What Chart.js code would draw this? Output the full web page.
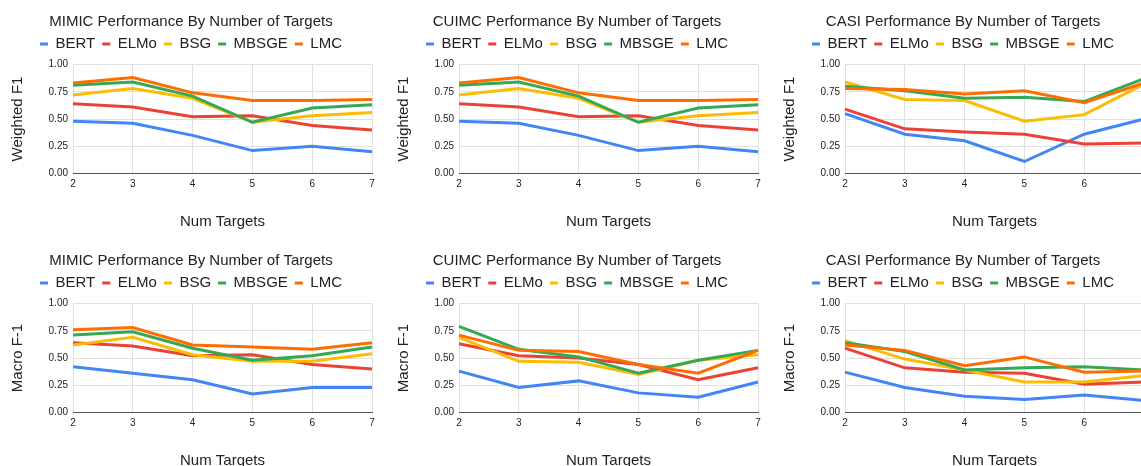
<!DOCTYPE html>
<html>
<head>
<meta charset="utf-8">
<script src="https://cdn.jsdelivr.net/npm/chart.js@4.4.0/dist/chart.umd.min.js"></script>
<style>
    html, body { margin: 0; padding: 0; background: #fff; }
    body { width: 1141px; height: 466px; overflow: hidden; position: relative; }
    .panel { position: absolute; width: 386px; height: 239px; }
</style>
</head>
<body>
<div class="panel" style="left:-2px;top:0"><canvas id="mimicWeighted" width="386" height="239"></canvas></div>
<div class="panel" style="left:384px;top:0"><canvas id="cuimcWeighted" width="386" height="239"></canvas></div>
<div class="panel" style="left:770px;top:0"><canvas id="casiWeighted" width="386" height="239"></canvas></div>
<div class="panel" style="left:-2px;top:239px"><canvas id="mimicMacro" width="386" height="239"></canvas></div>
<div class="panel" style="left:384px;top:239px"><canvas id="cuimcMacro" width="386" height="239"></canvas></div>
<div class="panel" style="left:770px;top:239px"><canvas id="casiMacro" width="386" height="239"></canvas></div>
<script>
// x-axis categories and series names
const numTargets = ['2', '3', '4', '5', '6', '7'];
const models = ['BERT', 'ELMo', 'BSG', 'MBSGE', 'LMC'];
const yTicks = [0, 0.25, 0.5, 0.75, 1];

// MIMIC - weighted F1
const mimicWeightedBERT  = [0.48, 0.46, 0.35, 0.21, 0.25, 0.20];
const mimicWeightedELMo  = [0.64, 0.61, 0.52, 0.53, 0.44, 0.40];
const mimicWeightedBSG   = [0.72, 0.78, 0.69, 0.47, 0.53, 0.56];
const mimicWeightedMBSGE = [0.81, 0.84, 0.71, 0.47, 0.60, 0.63];
const mimicWeightedLMC   = [0.83, 0.88, 0.74, 0.67, 0.67, 0.68];

// CUIMC - weighted F1
const cuimcWeightedBERT  = [0.48, 0.46, 0.35, 0.21, 0.25, 0.20];
const cuimcWeightedELMo  = [0.64, 0.61, 0.52, 0.53, 0.44, 0.40];
const cuimcWeightedBSG   = [0.72, 0.78, 0.69, 0.47, 0.53, 0.56];
const cuimcWeightedMBSGE = [0.81, 0.84, 0.71, 0.47, 0.60, 0.63];
const cuimcWeightedLMC   = [0.83, 0.88, 0.74, 0.67, 0.67, 0.68];

// CASI - weighted F1
const casiWeightedBERT  = [0.55, 0.36, 0.30, 0.11, 0.36, 0.50];
const casiWeightedELMo  = [0.59, 0.41, 0.38, 0.36, 0.27, 0.28];
const casiWeightedBSG   = [0.84, 0.68, 0.67, 0.48, 0.54, 0.82];
const casiWeightedMBSGE = [0.80, 0.76, 0.69, 0.70, 0.66, 0.87];
const casiWeightedLMC   = [0.78, 0.77, 0.73, 0.76, 0.65, 0.83];

// MIMIC - macro F-1
const mimicMacroBERT  = [0.42, 0.36, 0.30, 0.17, 0.23, 0.23];
const mimicMacroELMo  = [0.64, 0.61, 0.52, 0.53, 0.44, 0.40];
const mimicMacroBSG   = [0.62, 0.69, 0.53, 0.47, 0.47, 0.54];
const mimicMacroMBSGE = [0.71, 0.74, 0.59, 0.48, 0.52, 0.60];
const mimicMacroLMC   = [0.76, 0.78, 0.62, 0.60, 0.58, 0.64];

// CUIMC - macro F-1
const cuimcMacroBERT  = [0.38, 0.23, 0.29, 0.18, 0.14, 0.28];
const cuimcMacroELMo  = [0.63, 0.52, 0.50, 0.44, 0.30, 0.41];
const cuimcMacroBSG   = [0.69, 0.47, 0.46, 0.35, 0.48, 0.53];
const cuimcMacroMBSGE = [0.79, 0.58, 0.51, 0.36, 0.48, 0.57];
const cuimcMacroLMC   = [0.71, 0.57, 0.56, 0.44, 0.36, 0.57];

// CASI - macro F-1
const casiMacroBERT  = [0.37, 0.23, 0.15, 0.12, 0.16, 0.11];
const casiMacroELMo  = [0.59, 0.41, 0.37, 0.36, 0.26, 0.28];
const casiMacroBSG   = [0.66, 0.49, 0.39, 0.28, 0.28, 0.34];
const casiMacroMBSGE = [0.64, 0.56, 0.39, 0.41, 0.42, 0.39];
const casiMacroLMC   = [0.62, 0.57, 0.43, 0.51, 0.37, 0.38];

// Google Sheets style colours, same order as models
const modelColors = ['#4285F4', '#EA4335', '#FBBC04', '#34A853', '#FF6D01'];
const fontFamily = '"Liberation Sans", Arial, sans-serif';
const textColor = '#222';
const gridColor = '#e0e0e0';

// adds a few pixels under the legend, before the plot area
const legendGap = {
    id: 'legendGap',
    afterInit(chart) {
        const fit = chart.legend.fit;
        chart.legend.fit = function () {
            fit.call(this);
            this.height += 3;
        };
    }
};

function makeChart(canvasId, title, yTitle, series) {
    const ctx = document.getElementById(canvasId).getContext('2d');
    return new Chart(ctx, {
        type: 'line',
        data: {
            labels: numTargets,
            datasets: models.map((name, i) => ({
                label: name,
                data: series[i],
                borderColor: modelColors[i],
                backgroundColor: modelColors[i],
                borderWidth: 3,
                pointRadius: 0,
                tension: 0,
                order: models.length - i // later series drawn on top
            }))
        },
        options: {
            responsive: false,
            animation: false,
            devicePixelRatio: 1,
            font: { family: fontFamily },
            layout: { padding: { left: 12, right: 12, top: 0, bottom: 0 } },
            plugins: {
                title: {
                    display: true,
                    text: title,
                    color: textColor,
                    font: { family: fontFamily, size: 15, weight: 'normal' },
                    padding: { top: 13, bottom: -1.5 }
                },
                legend: {
                    labels: {
                        usePointStyle: true,
                        pointStyle: 'line',
                        pointStyleWidth: 8,
                        padding: 7,
                        color: textColor,
                        font: { family: fontFamily, size: 15 },
                        sort: (a, b) => a.datasetIndex - b.datasetIndex
                    }
                },
                tooltip: { enabled: false }
            },
            scales: {
                x: {
                    grid: { color: gridColor, drawTicks: false },
                    border: { color: '#555' },
                    ticks: { color: textColor, font: { family: fontFamily, size: 10 }, padding: 5, maxRotation: 0 },
                    title: {
                        display: true,
                        text: 'Num Targets',
                        color: textColor,
                        font: { family: fontFamily, size: 15 },
                        padding: { top: 0, bottom: 8 }
                    },
                    afterFit: scale => { scale.height = 65.5; }
                },
                y: {
                    min: yTicks[0],
                    max: yTicks[yTicks.length - 1],
                    afterBuildTicks: scale => { scale.ticks = yTicks.map(v => ({ value: v })); },
                    grid: { color: gridColor, drawTicks: false },
                    border: { display: false },
                    ticks: {
                        color: textColor,
                        font: { family: fontFamily, size: 10 },
                        padding: 5,
                        callback: v => Number(v).toFixed(2)
                    },
                    title: {
                        display: true,
                        text: yTitle,
                        color: textColor,
                        font: { family: fontFamily, size: 15 },
                        padding: { top: -1, bottom: 0 }
                    },
                    afterFit: scale => { scale.width = 63; }
                }
            }
        },
        plugins: [legendGap]
    });
}

makeChart('mimicWeighted', 'MIMIC Performance By Number of Targets', 'Weighted F1',
    [mimicWeightedBERT, mimicWeightedELMo, mimicWeightedBSG, mimicWeightedMBSGE, mimicWeightedLMC]);
makeChart('cuimcWeighted', 'CUIMC Performance By Number of Targets', 'Weighted F1',
    [cuimcWeightedBERT, cuimcWeightedELMo, cuimcWeightedBSG, cuimcWeightedMBSGE, cuimcWeightedLMC]);
makeChart('casiWeighted', 'CASI Performance By Number of Targets', 'Weighted F1',
    [casiWeightedBERT, casiWeightedELMo, casiWeightedBSG, casiWeightedMBSGE, casiWeightedLMC]);
makeChart('mimicMacro', 'MIMIC Performance By Number of Targets', 'Macro F-1',
    [mimicMacroBERT, mimicMacroELMo, mimicMacroBSG, mimicMacroMBSGE, mimicMacroLMC]);
makeChart('cuimcMacro', 'CUIMC Performance By Number of Targets', 'Macro F-1',
    [cuimcMacroBERT, cuimcMacroELMo, cuimcMacroBSG, cuimcMacroMBSGE, cuimcMacroLMC]);
makeChart('casiMacro', 'CASI Performance By Number of Targets', 'Macro F-1',
    [casiMacroBERT, casiMacroELMo, casiMacroBSG, casiMacroMBSGE, casiMacroLMC]);
</script>
</body>
</html>
